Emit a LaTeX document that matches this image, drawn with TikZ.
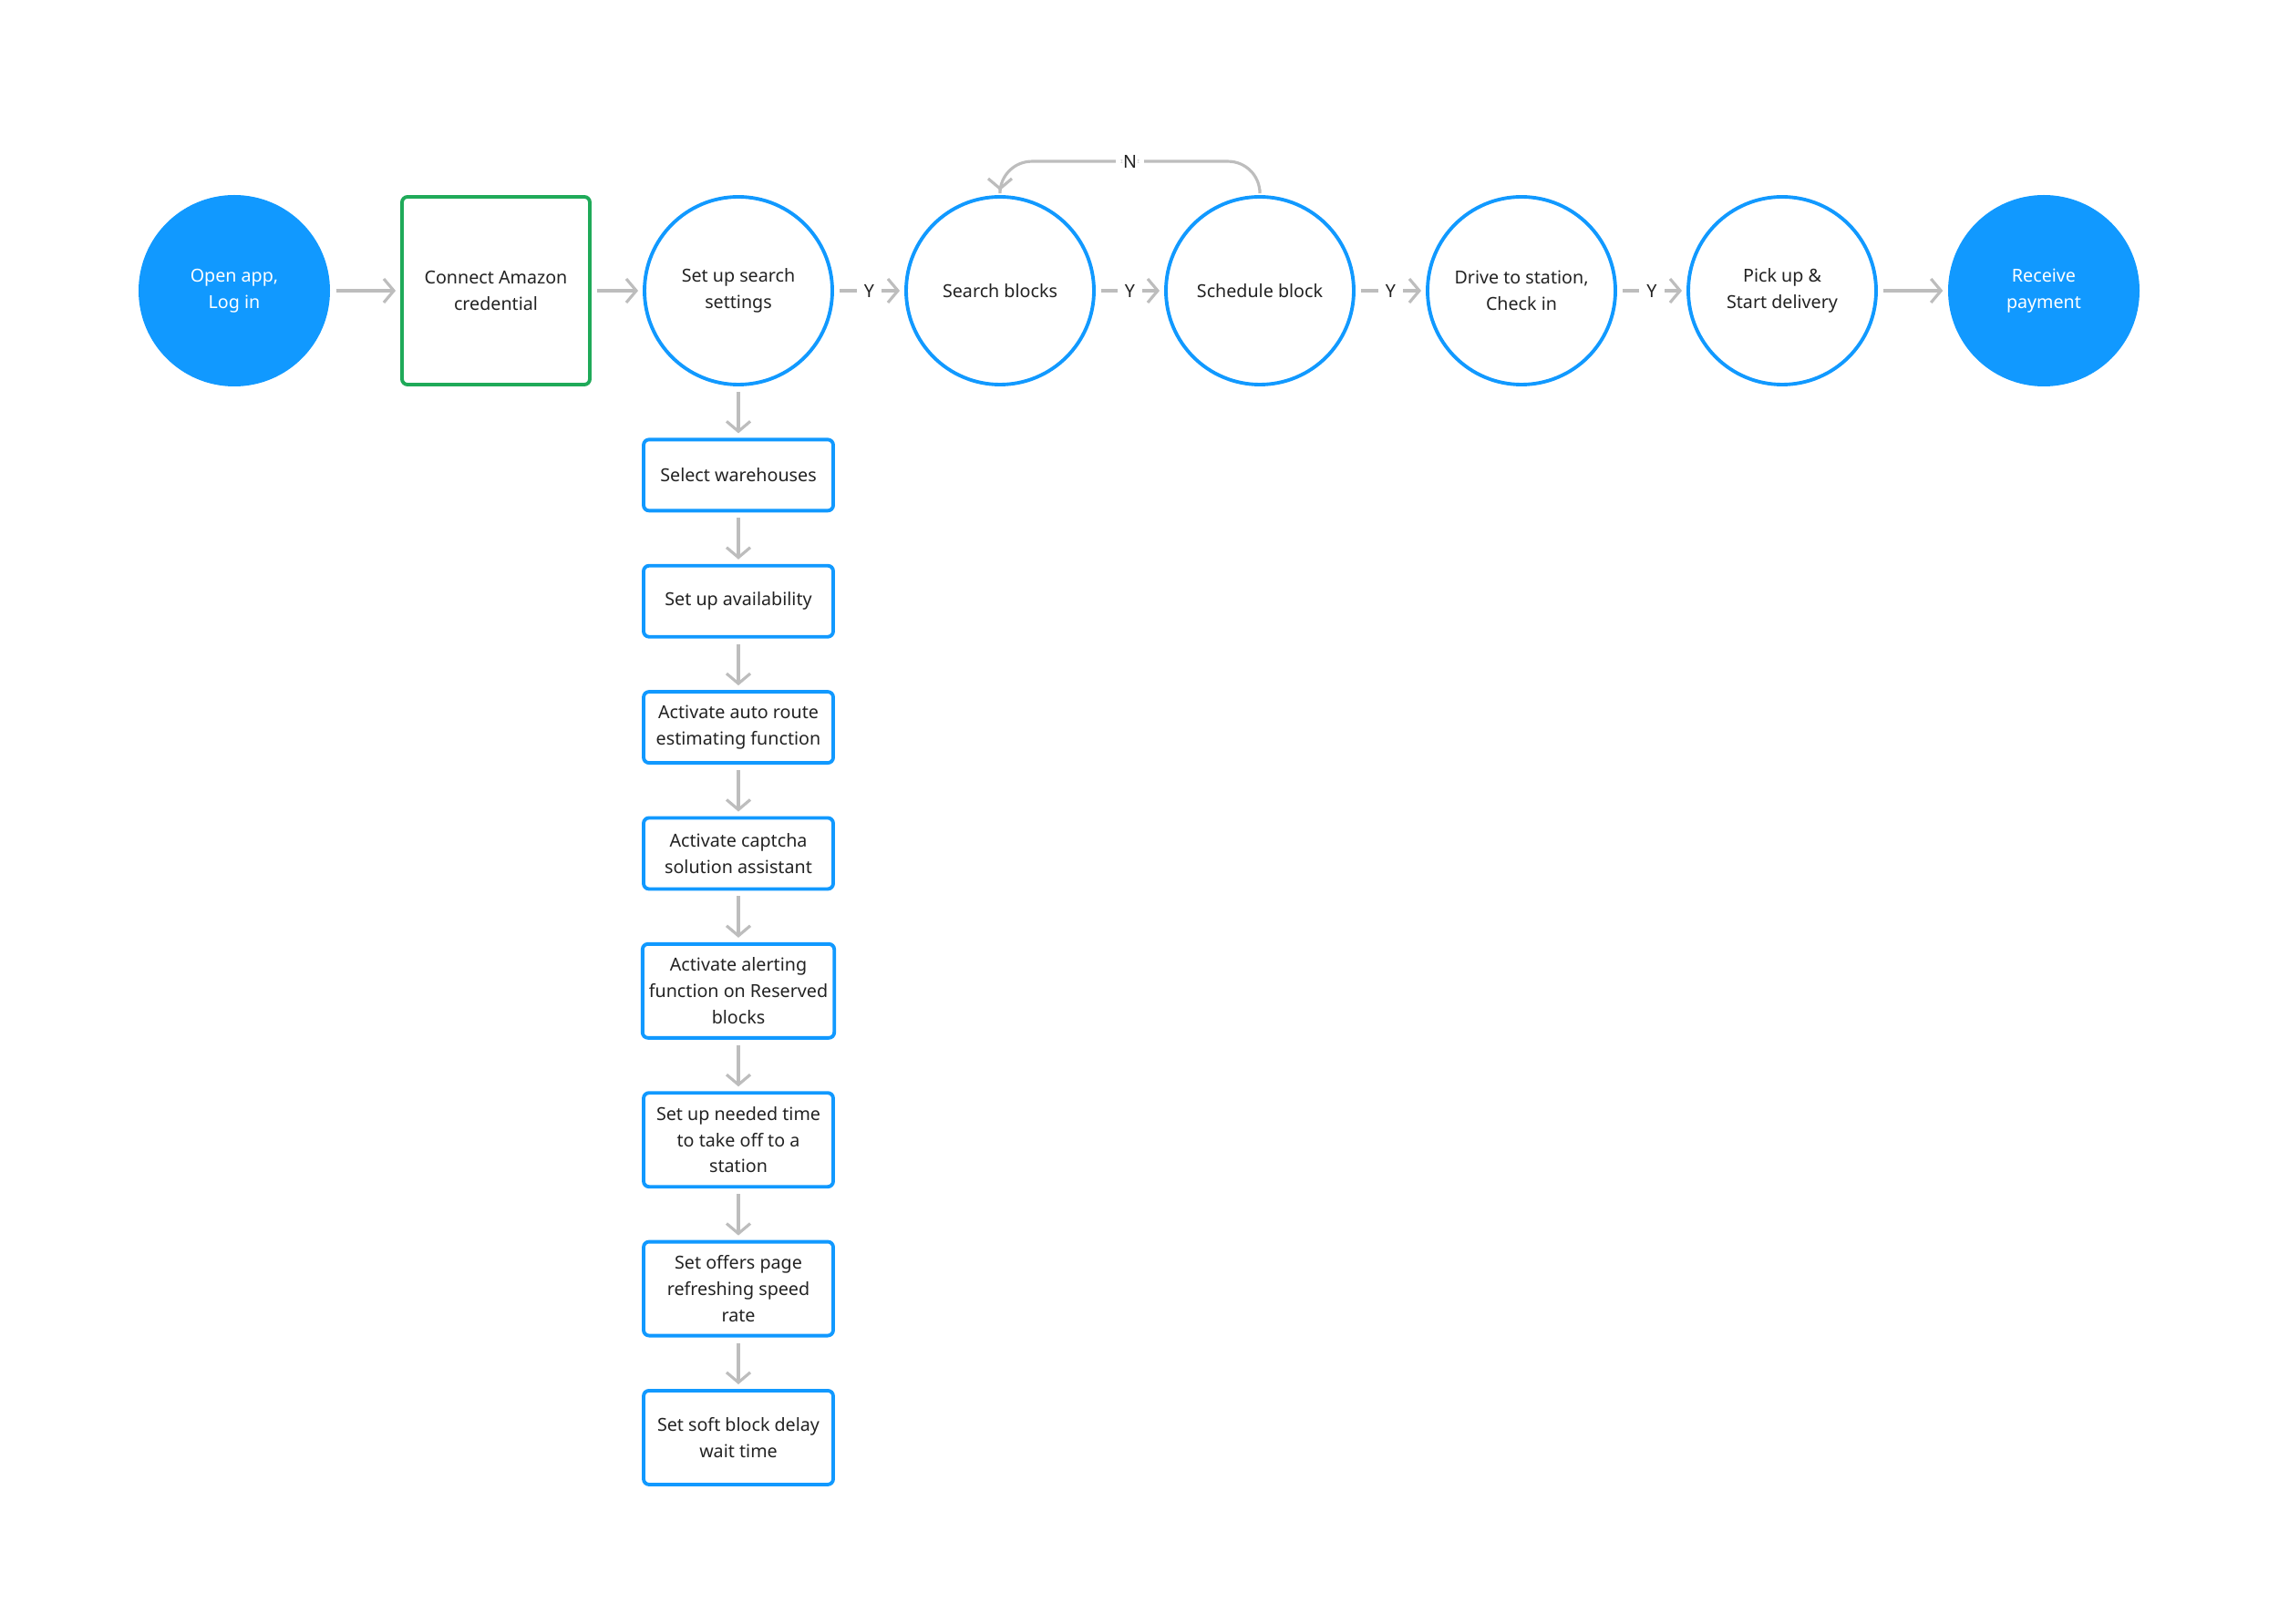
\documentclass[tikz,border=0pt]{standalone}
\usepackage{fontspec}
\setmainfont{Noto Sans}
\usetikzlibrary{arrows.meta,positioning}
\definecolor{flowblue}{RGB}{17,153,255}
\definecolor{flowgreen}{RGB}{31,170,89}
\definecolor{flowgray}{RGB}{189,189,189}
\definecolor{textdark}{RGB}{34,34,34}

\begin{document}
\begin{tikzpicture}[
    font=\fontsize{5.6}{8.2}\selectfont,
    endpoint/.style={circle, fill=flowblue, minimum size=2.1cm, inner sep=0pt, align=center, text=white},
    state/.style={circle, draw=flowblue, line width=1.1pt, minimum size=2.06cm, inner sep=0pt, align=center, text=textdark},
    setting/.style={draw=flowblue, line width=1.1pt, rounded corners=0.06cm, minimum width=2.08cm, minimum height=0.78cm, align=center, text=textdark, inner sep=2pt},
    arrow/.style={-{Straight Barb[length=0.11cm, width=0.26cm]}, flowgray, line width=0.9pt, shorten <=0.06cm, shorten >=0.05cm},
    yes/.style={fill=white, text=textdark, inner sep=0.08cm}
]
    \useasboundingbox (0,0) rectangle (25,-17.82);

    % Main row
    \node[endpoint] (open) at (2.57,-3.19) {Open app,\\Log in};
    \node[draw=flowgreen, line width=1.1pt, rounded corners=0.06cm, minimum size=2.06cm, align=center, text=textdark] (cred) at (5.44,-3.19) {Connect Amazon\\credential};
    \node[state] (setup) at (8.10,-3.19) {Set up search\\settings};
    \node[state] (srch) at (10.97,-3.19) {Search blocks};
    \node[state] (sched) at (13.82,-3.19) {Schedule block};
    \node[state] (drive) at (16.69,-3.19) {Drive to station,\\Check in};
    \node[state] (pick) at (19.55,-3.19) {Pick up \&\\Start delivery};
    \node[endpoint] (pay) at (22.42,-3.19) {Receive\\payment};

    % Arrows along the row
    \draw[arrow] (open) -- (cred);
    \draw[arrow] (cred) -- (setup);
    \draw[arrow] (setup) -- node[yes]{Y} (srch);
    \draw[arrow] (srch) -- node[yes]{Y} (sched);
    \draw[arrow] (sched) -- node[yes]{Y} (drive);
    \draw[arrow] (drive) -- node[yes]{Y} (pick);
    \draw[arrow] (pick) -- (pay);

    % Loop back when no block
    \draw[arrow, rounded corners=0.35cm] (sched.north) -- ++(0,0.37) -| node[pos=0.25, yes]{N} (srch.north);

    % Search settings
    \node[setting, below=0.565cm of setup] (wh) {Select warehouses};
    \node[setting, below=0.565cm of wh] (avail) {Set up availability};
    \node[setting, below=0.565cm of avail] (route) {Activate auto route\\estimating function};
    \node[setting, below=0.565cm of route] (captcha) {Activate captcha\\solution assistant};
    \node[setting, minimum height=1.03cm, below=0.565cm of captcha] (alert) {Activate alerting\\function on Reserved\\blocks};
    \node[setting, minimum height=1.03cm, below=0.565cm of alert] (takeoff) {Set up needed time\\to take off to a\\station};
    \node[setting, minimum height=1.03cm, below=0.565cm of takeoff] (refresh) {Set offers page\\refreshing speed\\rate};
    \node[setting, minimum height=1.03cm, below=0.565cm of refresh] (delay) {Set soft block delay\\wait time};

    % Arrows down the column
    \draw[arrow] (setup) -- (wh);
    \draw[arrow] (wh) -- (avail);
    \draw[arrow] (avail) -- (route);
    \draw[arrow] (route) -- (captcha);
    \draw[arrow] (captcha) -- (alert);
    \draw[arrow] (alert) -- (takeoff);
    \draw[arrow] (takeoff) -- (refresh);
    \draw[arrow] (refresh) -- (delay);
\end{tikzpicture}
\end{document}
